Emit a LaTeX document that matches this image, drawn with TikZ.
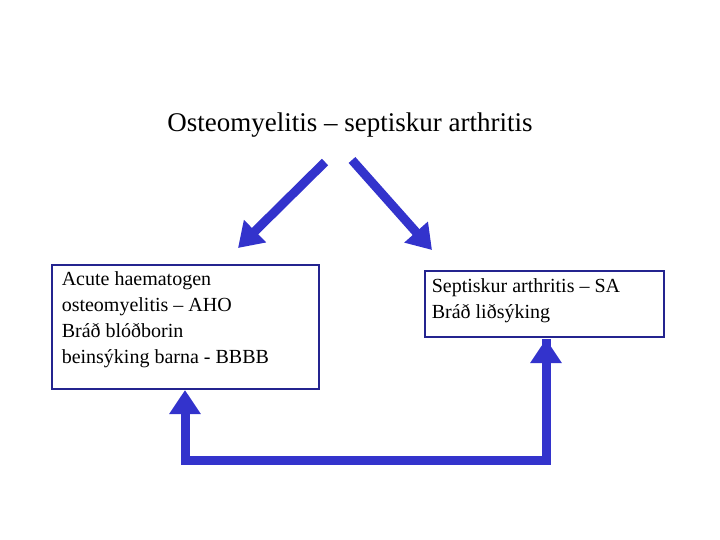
\documentclass[tikz,border=0pt]{standalone}
\usepackage{fontspec}
\setmainfont{Liberation Serif}
\usetikzlibrary{arrows.meta}
\definecolor{ab}{HTML}{3333CC}
\begin{document}
\begin{tikzpicture}[x=1pt,y=-1pt,
  box/.style={draw=ab!70!black,line width=1.5pt,inner sep=0pt,align=left,font=\fontsize{20}{26}\selectfont},
  arr/.style={draw=ab,line width=9pt,-{Triangle[length=24pt,width=30pt]}}]
\useasboundingbox (0,0) rectangle (720,540);
\node (t) at (350,125) {\fontsize{27}{32}\selectfont Osteomyelitis – septiskur arthritis};
\draw[box] (52,265) rectangle (319,389);
\node[box,draw=none,anchor=north west] (a) at (61,271) {Acute haematogen\\osteomyelitis – AHO\\Bráð blóðborin\\beinsýking barna - BBBB};
\draw[box] (425,271) rectangle (664,337);
\node[box,draw=none,anchor=north west] (b) at (431,278) {Septiskur arthritis – SA\\Bráð liðsýking};
\coordinate (l0) at (325,162); \coordinate (l1) at (238,248);
\coordinate (r0) at (352,160); \coordinate (r1) at (432,250);
\draw[arr] (l0) -- (l1);
\draw[arr] (r0) -- (r1);
\coordinate (p0) at (546,460); \coordinate (p1) at (546,339); \coordinate (p2) at (185,460); \coordinate (p3) at (185,390);
\draw[arr,line join=miter] (p1) -- (p0) -- (p2) -- (p3);
\draw[arr,-{Triangle[length=24pt,width=30pt]}] (p0) -- (p1);
\end{tikzpicture}
\end{document}
